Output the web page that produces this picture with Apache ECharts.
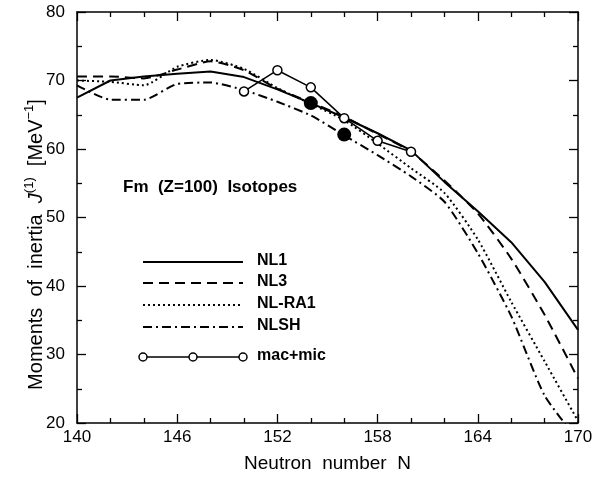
<!DOCTYPE html>
<html>
<head>
<meta charset="utf-8">
<script src="https://cdn.jsdelivr.net/npm/echarts@6/dist/echarts.min.js"></script>
<style>html,body{margin:0;padding:0;background:#fff}#c{width:610px;height:478px}</style>
</head>
<body>
<div id="c"></div>
<script>
// ---- data ----
var neutronN = [140,142,144,146,148,150,152,154,156,158,160,162,164,166,168,170];
var nl1   = [67.5,70.0,70.6,71.0,71.3,70.5,68.7,66.7,64.6,62.3,59.8,55.2,50.9,46.4,40.6,33.6];
var nl3   = [70.6,70.6,70.3,71.6,72.8,71.5,68.8,66.8,64.7,62.2,59.6,55.4,50.6,44.0,35.8,26.5];
var nlra1 = [70.0,69.8,69.3,72.0,73.0,71.7,68.9,66.6,64.2,60.8,57.2,53.6,46.8,37.7,29.0,20.3];
var nlsh  = [69.3,67.2,67.2,69.5,69.7,68.6,66.9,64.9,62.0,59.1,56.0,52.3,44.8,35.6,24.0,17.5];
var macN   = [150,152,154,156,158,160];
var macMic = [68.4,71.5,69.0,64.5,61.2,59.6];
var expN   = [154,156];
var expVal = [66.7,62.1];
var seriesNames = ['NL1','NL3','NL-RA1','NLSH','mac+mic'];
var xTicks = [140,146,152,158,164,170];
var yTicks = [20,30,40,50,60,70,80];

function pairs(xs, ys){ return xs.map(function(x,i){return [x, ys[i]];}); }

var FONT = '"Liberation Sans", Arial, Helvetica, sans-serif';
var chart = echarts.init(document.getElementById('c'), null, {renderer:'canvas'});

function xAx(pos, show){
  return {
    type:'value', min:xTicks[0], max:xTicks[xTicks.length-1], interval:6, position:pos,
    axisLine:{show:true, onZero:false, lineStyle:{color:'#000', width:1.5}},
    axisTick:{show:true, inside:true, length:9, lineStyle:{color:'#000', width:1.3}},
    minorTick:{show:true, splitNumber:3, length:5, lineStyle:{color:'#000', width:1.3}},
    splitLine:{show:false}, minorSplitLine:{show:false},
    axisLabel:{show:show, color:'#000', fontSize:17, fontFamily:FONT, margin:6},
    name: show ? 'Neutron  number  N' : '', nameLocation:'middle', nameGap:31,
    nameMoveOverlap:false,
    nameTextStyle:{color:'#000', fontSize:19, fontFamily:FONT}
  };
}
function yAx(pos, show){
  return {
    type:'value', min:yTicks[0], max:yTicks[yTicks.length-1], interval:10, position:pos,
    axisLine:{show:true, onZero:false, lineStyle:{color:'#000', width:1.5}},
    axisTick:{show:true, inside:true, length:9, lineStyle:{color:'#000', width:1.3}},
    minorTick:{show:true, splitNumber:2, length:5, lineStyle:{color:'#000', width:1.3}},
    splitLine:{show:false}, minorSplitLine:{show:false},
    axisLabel:{show:show, color:'#000', fontSize:17, fontFamily:FONT, margin:12},
    name: show ? '{a|Moments  of  inertia  }{i|J}{s|(1)}{a|  [MeV}{s|−1}{a|]}' : '',
    nameLocation:'middle', nameGap:28, nameRotate:90, nameMoveOverlap:false,
    nameTextStyle:{color:'#000', fontSize:20, fontFamily:FONT, padding:[0,54,0,0],
      rich:{
        a:{fontSize:20, fontFamily:FONT, color:'#000', lineHeight:26},
        i:{fontSize:20, fontFamily:FONT, color:'#000', fontStyle:'italic', lineHeight:26},
        s:{fontSize:13, fontFamily:FONT, color:'#000', lineHeight:15, verticalAlign:'top'}
      }}
  };
}

var lineBase = {type:'line', symbol:'none', silent:true, animation:false, clip:true};

// legend (drawn as graphic to mimic the original key)
var legY = [262, 283, 305, 327, 357];
var dashes = [null, [10,6], [2,3], [9,4,2,4], null];
var graphics = [];
seriesNames.forEach(function(nm, i){
  graphics.push({type:'line', shape:{x1:143, y1:legY[i], x2:243, y2:legY[i]},
    style:{stroke:'#000', lineWidth: i===4 ? 1.5 : 2, lineDash: dashes[i] || null}, z:10});
  graphics.push({type:'text', left:257, top:legY[i]-9,
    style:{text:nm, fill:'#000', font:'bold 16px ' + FONT}, z:10});
});
[143,193,243].forEach(function(cx){
  graphics.push({type:'circle', shape:{cx:cx, cy:legY[4], r:4},
    style:{fill:'#fff', stroke:'#000', lineWidth:1.5}, z:11});
});

chart.setOption({
  backgroundColor:'#fff',
  animation:false,
  title:{text:'Fm  (Z=100)  Isotopes', left:123, top:179, padding:0,
    textStyle:{fontSize:17, fontWeight:'bold', color:'#000', fontFamily:FONT}},
  grid:{left:77, right:32, top:12, bottom:51, containLabel:false},
  xAxis:[xAx('bottom', true), xAx('top', false)],
  yAxis:[yAx('left', true), yAx('right', false)],
  graphic: graphics,
  series:[
    Object.assign({}, lineBase, {name:seriesNames[0], data:pairs(neutronN, nl1),
      lineStyle:{color:'#000', width:2}}),
    Object.assign({}, lineBase, {name:seriesNames[1], data:pairs(neutronN, nl3), smooth:0.2,
      lineStyle:{color:'#000', width:2, type:[10,6]}}),
    Object.assign({}, lineBase, {name:seriesNames[2], data:pairs(neutronN, nlra1), smooth:0.2,
      lineStyle:{color:'#000', width:2, type:[2,3]}}),
    Object.assign({}, lineBase, {name:seriesNames[3], data:pairs(neutronN, nlsh), smooth:0.2,
      lineStyle:{color:'#000', width:2, type:[9,4,2,4]}}),
    Object.assign({}, lineBase, {name:seriesNames[4], data:pairs(macN, macMic),
      symbol:'circle', symbolSize:9, showSymbol:true,
      itemStyle:{color:'#fff', borderColor:'#000', borderWidth:1.5, opacity:1},
      lineStyle:{color:'#000', width:1.5}, z:5}),
    {type:'scatter', name:'exp', data:pairs(expN, expVal), symbol:'circle', symbolSize:14,
      itemStyle:{color:'#000', opacity:1}, silent:true, z:6}
  ]
});
</script>
</body>
</html>
